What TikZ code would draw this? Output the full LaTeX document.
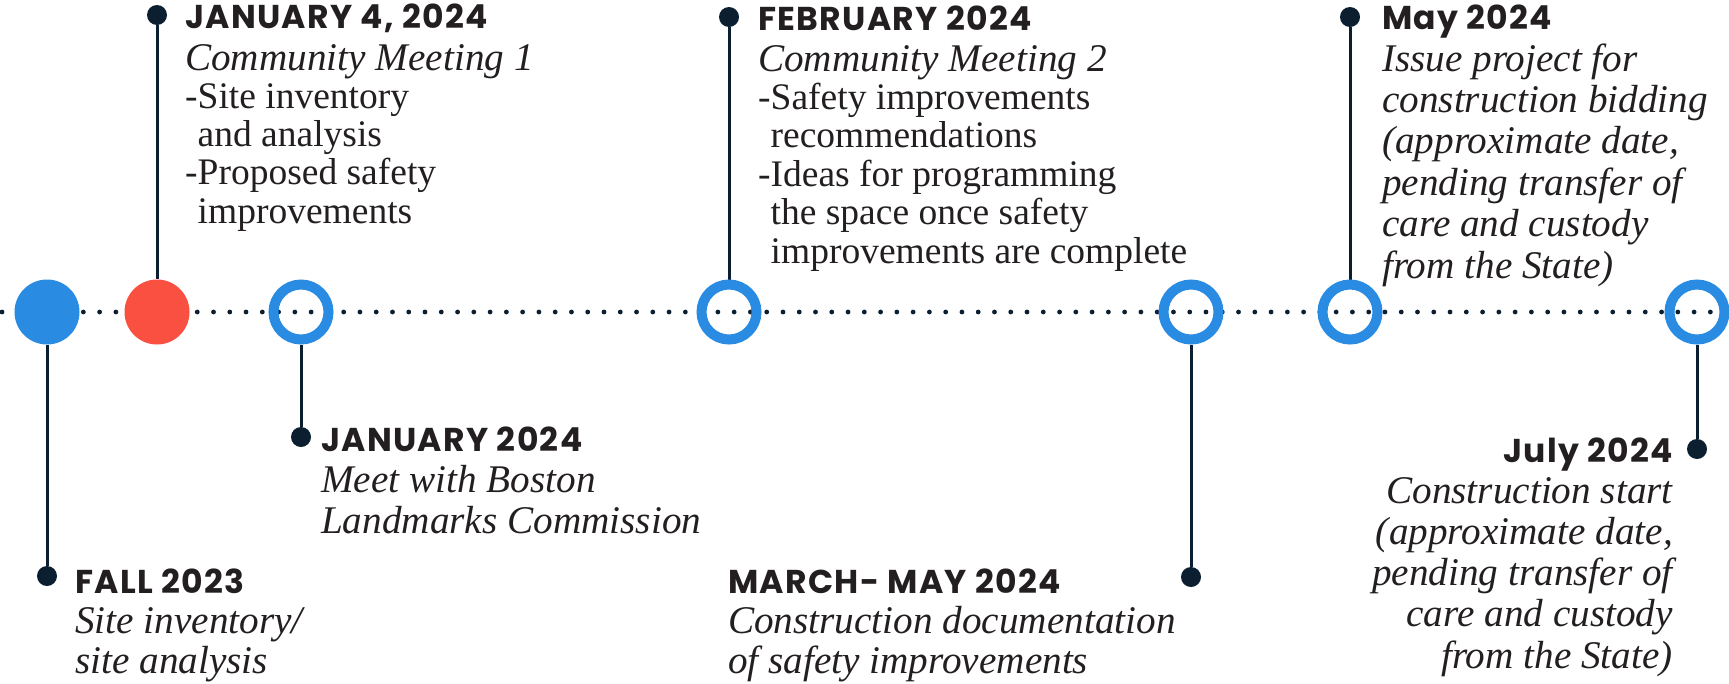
\documentclass[tikz,border=0pt]{standalone}
\usepackage{fontspec}
\setmainfont{Liberation Serif}
\newfontfamily\headfont{Poppins}[LetterSpace=4]
\usetikzlibrary{backgrounds}
\definecolor{tlblue}{RGB}{42,139,226}
\definecolor{tlred}{RGB}{250,80,66}
\definecolor{tlnavy}{RGB}{12,31,48}
\definecolor{tltext}{RGB}{35,31,32}
\begin{document}
\begin{tikzpicture}[x=1pt,y=-1pt,
  ring/.style={circle,draw=tlblue,line width=10pt,minimum size=55pt,inner sep=0pt},
  disc/.style={circle,fill=#1,minimum size=65pt,inner sep=0pt},
  pin/.style={circle,fill=tlnavy,minimum size=20pt,inner sep=0pt},
  stem/.style={draw=tlnavy,line width=3pt},
  head/.style={inner sep=0pt,text=tltext,font=\headfont\bfseries\fontsize{33}{33}\selectfont},
  body/.style={inner sep=0pt,text=tltext,font=\fontsize{37.5}{#1}\selectfont},
  bodyit/.style={inner sep=0pt,text=tltext,font=\fontsize{39.2}{#1}\selectfont\itshape},
]
\useasboundingbox (0,0) rectangle (1729,683);
% milestones on the timeline
\node[disc=tlblue] (c1) at (47,312) {};
\node[disc=tlred]  (c2) at (157,312) {};
\node[ring] (c3) at (301,312) {};
\node[ring] (c4) at (729,312) {};
\node[ring] (c5) at (1191,312) {};
\node[ring] (c6) at (1350,312) {};
\node[ring] (c7) at (1697,312) {};
% pins
\node[pin] (p1) at (47,576) {};
\node[pin] (p2) at (157,15) {};
\node[pin] (p3) at (301,437) {};
\node[pin] (p4) at (729,17) {};
\node[pin] (p5) at (1191,577) {};
\node[pin] (p6) at (1350,17) {};
\node[pin] (p7) at (1697,449) {};
\begin{scope}[on background layer]
  \fill[white] (0,0) rectangle (1729,683);
  \foreach \k in {0,...,105} \fill[tlnavy] ({2+16.27*\k},312) circle (2.4);
  \draw[stem] (p1) -- (c1);
  \draw[stem] (p2) -- (c2);
  \draw[stem] (p3) -- (c3);
  \draw[stem] (p4) -- (c4);
  \draw[stem] (p5) -- (c5);
  \draw[stem] (p6) -- (c6);
  \draw[stem] (p7) -- (c7);
\end{scope}
% texts
\node[head,anchor=base west] (h1) at (75,593) {FALL 2023};
\node[bodyit=40,anchor=base west] (b1) at (75,633) {\begin{tabular}[t]{@{}l@{}}Site inventory/\\site analysis\end{tabular}};

\node[head,anchor=base west] (h2) at (185,28) {JANUARY 4, 2024};
\node[body=38.3,anchor=base west] (b2) at (185,70) {\begin{tabular}[t]{@{}l@{}}\itshape\fontsize{39.2}{38.3}\selectfont Community Meeting 1\\-Site inventory\\\phantom{-}and analysis\\-Proposed safety\\\phantom{-}improvements\end{tabular}};

\node[head,anchor=base west] (h3) at (321,451) {JANUARY 2024};
\node[bodyit=41,anchor=base west] (b3) at (321,492) {\begin{tabular}[t]{@{}l@{}}Meet with Boston\\Landmarks Commission\end{tabular}};

\node[head,anchor=base west] (h4) at (758,30) {FEBRUARY 2024};
\node[body=38.4,anchor=base west] (b4) at (758,71) {\begin{tabular}[t]{@{}l@{}}\itshape\fontsize{39.2}{38.4}\selectfont Community Meeting 2\\-Safety improvements\\\phantom{-}recommendations\\-Ideas for programming\\\phantom{-}the space once safety\\\phantom{-}improvements are complete\end{tabular}};

\node[head,anchor=base west] (h5) at (728,593) {MARCH- MAY 2024};
\node[bodyit=40,anchor=base west] (b5) at (728,633) {\begin{tabular}[t]{@{}l@{}}Construction documentation\\of safety improvements\end{tabular}};

\node[head,anchor=base west] (h6) at (1382,29) {May 2024};
\node[bodyit=41.4,anchor=base west] (b6) at (1382,71) {\begin{tabular}[t]{@{}l@{}}Issue project for\\construction bidding\\(approximate date,\\pending transfer of\\care and custody\\from the State)\end{tabular}};

\node[head,anchor=base east] (h7) at (1673,462) {July 2024};
\node[bodyit=41.3,anchor=base east] (b7) at (1673,503) {\begin{tabular}[t]{@{}r@{}}Construction start\\(approximate date,\\pending transfer of\\care and custody\\from the State)\end{tabular}};
\end{tikzpicture}
\end{document}
